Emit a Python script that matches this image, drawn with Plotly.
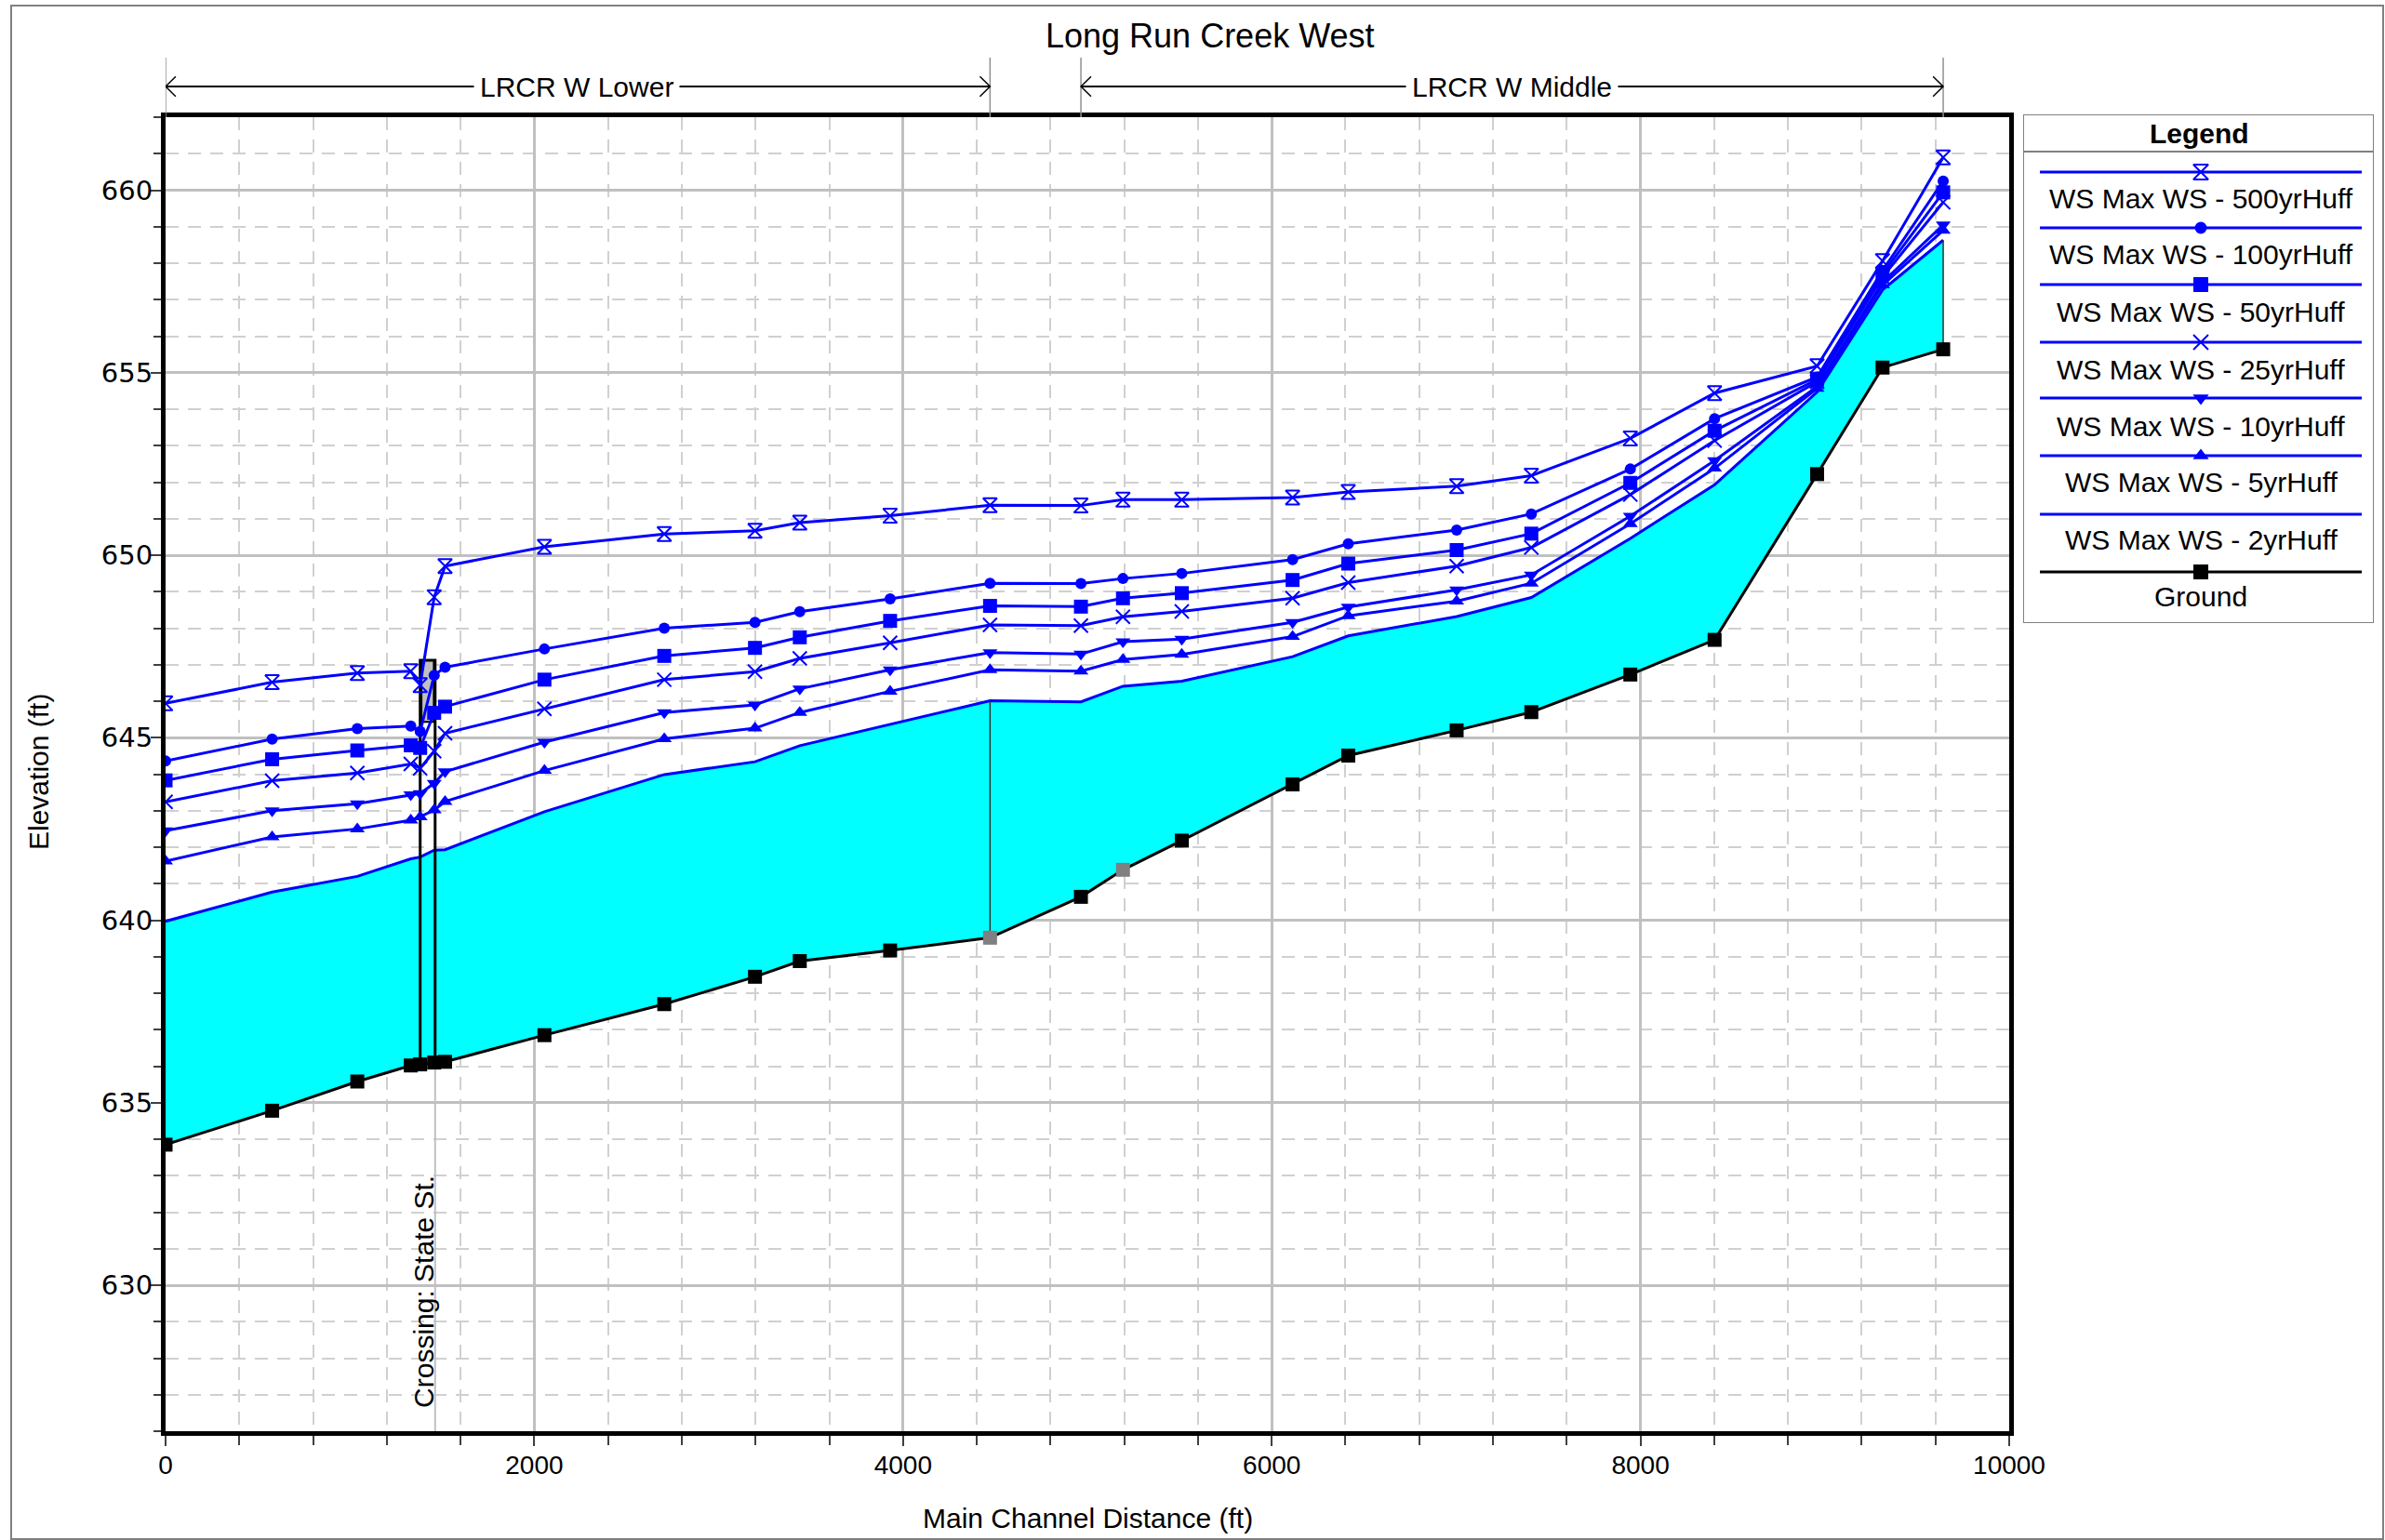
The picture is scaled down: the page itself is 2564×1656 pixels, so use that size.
import plotly.graph_objects as go

W, H = 2564, 1656

# ---------------- data ----------------
stations = [0, 578, 1040, 1330, 1381, 1457, 1516, 2055, 2705, 3197, 3440, 3930, 4472,
            4965, 5193, 5512, 6113, 6415, 7003, 7408, 7945, 8402, 8958, 9313, 9642]

ground = [633.85, 634.78, 635.58, 636.02, 636.05, 636.10, 636.12, 636.85, 637.70, 638.45,
          638.88, 639.17, 639.52, 640.64, 641.38, 642.18, 643.72, 644.51, 645.20, 645.70,
          646.73, 647.68, 652.22, 655.14, 655.64]
ground_gray_stations = [4472, 5193]

ws_2yr = [639.97, 640.77, 641.20, 641.68, 641.73, 641.92, 641.93, 642.97, 643.99, 644.34,
          644.78, 645.36, 646.01, 645.98, 646.41, 646.55, 647.22, 647.79, 648.32, 648.84,
          650.46, 651.93, 654.47, 657.27, 658.63]
ws_5yr = [641.62, 642.28, 642.50, 642.74, 642.83, 643.02, 643.25, 644.10, 644.97, 645.26,
          645.69, 646.27, 646.86, 646.82, 647.14, 647.28, 647.77, 648.34, 648.74, 649.23,
          650.86, 652.38, 654.57, 657.40, 658.90]
ws_10yr = [642.45, 643.00, 643.19, 643.44, 643.47, 643.75, 644.07, 644.88, 645.69, 645.90,
           646.34, 646.86, 647.33, 647.29, 647.63, 647.70, 648.16, 648.58, 649.05, 649.46,
           651.07, 652.59, 654.62, 657.48, 659.05]
ws_25yr = [643.24, 643.82, 644.03, 644.28, 644.16, 644.63, 645.12, 645.79, 646.59, 646.81,
           647.17, 647.60, 648.09, 648.07, 648.31, 648.46, 648.82, 649.25, 649.70, 650.21,
           651.66, 653.14, 654.75, 657.62, 659.67]
ws_50yr = [643.83, 644.41, 644.65, 644.79, 644.72, 645.68, 645.85, 646.59, 647.24, 647.46,
           647.75, 648.20, 648.61, 648.59, 648.82, 648.96, 649.32, 649.77, 650.14, 650.59,
           651.98, 653.41, 654.81, 657.71, 659.94]
ws_100yr = [644.36, 644.96, 645.25, 645.32, 645.17, 646.71, 646.93, 647.43, 648.00, 648.16,
            648.45, 648.80, 649.23, 649.22, 649.36, 649.50, 649.88, 650.31, 650.69, 651.13,
            652.36, 653.74, 654.88, 657.80, 660.25]
ws_500yr = [645.94, 646.52, 646.77, 646.82, 646.44, 648.85, 649.70, 650.23, 650.58, 650.67,
            650.89, 651.08, 651.37, 651.36, 651.52, 651.52, 651.58, 651.73, 651.89, 652.18,
            653.20, 654.44, 655.18, 658.06, 660.90]

series_names = ["WS Max WS - 500yrHuff", "WS Max WS - 100yrHuff", "WS Max WS - 50yrHuff",
                "WS Max WS - 25yrHuff", "WS Max WS - 10yrHuff", "WS Max WS - 5yrHuff",
                "WS Max WS - 2yrHuff", "Ground"]

# bridge (Crossing: State St.)
bridge_faces = [1381, 1462]
bridge_top = 647.12
bridge_low_chord = 645.43
bridge_deck = [1388, 1455]
crossing_label = "Crossing: State St."
crossing_station = 1400

# reaches
reach_names = ["LRCR W Lower", "LRCR W Middle"]
reach_start = [0, 4965]
reach_end = [4472, 9642]
reach_label_x = [2228, 7302]

title_text = "Long Run Creek West"
x_title = "Main Channel Distance (ft)"
y_title = "Elevation (ft)"

# ---------------- styling ----------------
BLUE = "#0000FF"
CYAN = "#00FFFF"
FONT = "Arial, Liberation Sans, sans-serif"
YFONT = "DejaVu Sans, Verdana, sans-serif"

def fy(p):  # pixel row -> paper
    return 1 - p / H

def fx(p):
    return p / W

fig = go.Figure()

gcolors = ["#808080" if s in ground_gray_stations else "black" for s in stations]
fig.add_trace(go.Scatter(x=stations, y=ground, mode="lines", line=dict(color="black", width=3),
                         showlegend=False, hoverinfo="skip"))
fig.add_trace(go.Scatter(x=stations, y=ws_2yr, mode="lines", line=dict(color=BLUE, width=3),
                         fill="tonexty", fillcolor=CYAN, showlegend=False, name=series_names[6]))

for s in [4472, 9642]:
    i = stations.index(s)
    fig.add_trace(go.Scatter(x=[s, s], y=[ground[i], ws_2yr[i]], mode="lines",
                             line=dict(color="#303030", width=1.5), showlegend=False, hoverinfo="skip"))

ig0 = stations.index(1381)
ig1 = stations.index(1457)
fig.add_trace(go.Scatter(x=[bridge_deck[0], bridge_deck[1], bridge_deck[1], bridge_deck[0], bridge_deck[0]],
                         y=[bridge_low_chord, bridge_low_chord, bridge_top, bridge_top, bridge_low_chord],
                         mode="lines", fill="toself", fillcolor="#C0C0C0",
                         line=dict(color="black", width=2), showlegend=False, hoverinfo="skip"))
fig.add_trace(go.Scatter(x=[bridge_faces[0], bridge_faces[0], bridge_faces[1], bridge_faces[1]],
                         y=[ground[ig0], bridge_top, bridge_top, ground[ig1]],
                         mode="lines", line=dict(color="black", width=3), showlegend=False, hoverinfo="skip"))
fig.add_trace(go.Scatter(x=[bridge_faces[1], bridge_faces[1]], y=[626, ground[ig1]],
                         mode="lines", line=dict(color="#C0C0C0", width=2), showlegend=False, hoverinfo="skip"))

ws_series = [
    (series_names[5], ws_5yr, "triangle-up", 14),
    (series_names[4], ws_10yr, "triangle-down", 14),
    (series_names[3], ws_25yr, "x-thin-open", 15),
    (series_names[2], ws_50yr, "square", 15),
    (series_names[1], ws_100yr, "circle", 12),
    (series_names[0], ws_500yr, "hourglass-open", 15),
]
for name, vals, sym, size in ws_series:
    fig.add_trace(go.Scatter(x=stations, y=vals, mode="lines+markers", name=name,
                             line=dict(color=BLUE, width=3),
                             marker=dict(symbol=sym, size=size, color=BLUE,
                                         line=dict(color=BLUE, width=2 if "open" in sym else 0)),
                             showlegend=False))

fig.add_trace(go.Scatter(x=stations, y=ground, mode="markers", name="Ground",
                         marker=dict(symbol="square", size=15, color=gcolors, line=dict(width=0)),
                         showlegend=False))

# ---------------- custom legend (on hidden axes in pixel units) ----------------
leg_line_y = [185, 245, 306, 368, 428, 490, 553, 615]
leg_text_y = [213, 273, 335, 397, 458, 518, 580, 641]
leg_syms = ["hourglass-open", "circle", "square", "x-thin-open", "triangle-down", "triangle-up", None, "square"]
leg_sizes = [16, 13, 16, 16, 15, 15, 0, 16]
for i, name in enumerate(series_names):
    col = "black" if name == "Ground" else BLUE
    fig.add_trace(go.Scatter(x=[2193, 2539], y=[leg_line_y[i], leg_line_y[i]], mode="lines",
                             line=dict(color=col, width=3), xaxis="x3", yaxis="y3",
                             showlegend=False, hoverinfo="skip"))
    if leg_syms[i]:
        sym = leg_syms[i]
        fig.add_trace(go.Scatter(x=[2366], y=[leg_line_y[i]], mode="markers", xaxis="x3", yaxis="y3",
                                 marker=dict(symbol=sym, size=leg_sizes[i], color=col,
                                             line=dict(color=col, width=2 if "open" in sym else 0)),
                                 showlegend=False, hoverinfo="skip"))

annotations = []
for i, name in enumerate(series_names):
    annotations.append(dict(x=2366, y=leg_text_y[i], xref="x3", yref="y3", text=name, showarrow=False,
                            font=dict(family=FONT, size=30, color="black"), xanchor="center", yanchor="middle"))
annotations.append(dict(x=2364, y=143, xref="x3", yref="y3", text="<b>Legend</b>", showarrow=False,
                        font=dict(family=FONT, size=30, color="black"), xanchor="center", yanchor="middle"))

annotations.append(dict(x=fx(1301), y=fy(39), xref="paper", yref="paper", text=title_text, showarrow=False,
                        font=dict(family=FONT, size=36, color="black"), xanchor="center", yanchor="middle"))
annotations.append(dict(x=fx(1169), y=fy(1632), xref="paper", yref="paper", text=x_title, showarrow=False,
                        font=dict(family=FONT, size=30, color="black"), xanchor="center", yanchor="middle"))
annotations.append(dict(x=fx(41), y=fy(830), xref="paper", yref="paper", text=y_title, showarrow=False,
                        textangle=-90, font=dict(family=FONT, size=30, color="black"),
                        xanchor="center", yanchor="middle"))
annotations.append(dict(x=crossing_station, y=626.6, xref="x", yref="y", text=crossing_label, showarrow=False,
                        textangle=-90, font=dict(family=FONT, size=30, color="black"),
                        xanchor="center", yanchor="bottom"))

shapes = []
ry = fy(93)
for name, s0, s1, lx in zip(reach_names, reach_start, reach_end, reach_label_x):
    for s in (s0, s1):
        shapes.append(dict(type="line", xref="x", yref="paper", x0=s, x1=s, y0=fy(126), y1=fy(62),
                           line=dict(color="#909090", width=1.5)))
    shapes.append(dict(type="line", xref="x", yref="paper", x0=s0, x1=s1, y0=ry, y1=ry,
                       line=dict(color="black", width=2)))
    d = 0.0065
    shapes.append(dict(type="path", xref="x", yref="paper",
                       path=f"M {s0+55},{ry+d} L {s0},{ry} L {s0+55},{ry-d}",
                       line=dict(color="black", width=1.5)))
    shapes.append(dict(type="path", xref="x", yref="paper",
                       path=f"M {s1-55},{ry+d} L {s1},{ry} L {s1-55},{ry-d}",
                       line=dict(color="black", width=1.5)))
    annotations.append(dict(x=lx, y=ry, xref="x", yref="paper", text=name, showarrow=False,
                            bgcolor="white", borderpad=6,
                            font=dict(family=FONT, size=30, color="black"), xanchor="center", yanchor="middle"))

shapes.append(dict(type="rect", xref="x3", yref="y3", x0=2175, x1=2552, y0=123, y1=670,
                   line=dict(color="#808080", width=2)))
shapes.append(dict(type="line", xref="x3", yref="y3", x0=2175, x1=2552, y0=163, y1=163,
                   line=dict(color="#808080", width=2)))
shapes.append(dict(type="rect", xref="paper", yref="paper", x0=fx(12), x1=fx(2562), y0=fy(1655), y1=fy(6),
                   line=dict(color="#808080", width=2)))

axis_common = dict(showline=True, linecolor="black", linewidth=5, mirror=True, ticks="outside",
                   tickcolor="#404040", tickwidth=2, ticklen=11, zeroline=False, automargin=False,
                   showgrid=True, gridcolor="#C0C0C0", gridwidth=3)

fig.update_layout(
    width=W, height=H, autosize=False,
    margin=dict(l=0, r=0, t=0, b=0, pad=0),
    paper_bgcolor="white", plot_bgcolor="white",
    showlegend=False,
    xaxis=dict(domain=[fx(178), fx(2160)], range=[0, 10000], dtick=2000, tick0=0, tickformat="d",
               anchor="y", tickfont=dict(family=FONT, size=28, color="black"),
               minor=dict(dtick=400, ticks="outside", ticklen=10, tickwidth=1.5, tickcolor="#404040",
                          showgrid=True, gridcolor="#D0D0D0", gridwidth=2, griddash="14px,10px"),
               **axis_common),
    yaxis=dict(domain=[fy(1539), fy(126)], range=[626, 662], dtick=5, tick0=630, anchor="x",
               tickfont=dict(family=YFONT, size=29, color="black"),
               minor=dict(dtick=1, ticks="outside", ticklen=8, tickwidth=1.5, tickcolor="#404040",
                          showgrid=True, gridcolor="#D0D0D0", gridwidth=2, griddash="14px,10px"),
               **axis_common),
    xaxis3=dict(domain=[fx(2175), fx(2552)], range=[2175, 2552], visible=False, anchor="y3",
                showgrid=False, zeroline=False, fixedrange=True, automargin=False),
    yaxis3=dict(domain=[fy(670), fy(123)], range=[670, 123], visible=False, anchor="x3",
                showgrid=False, zeroline=False, fixedrange=True, automargin=False),
    annotations=annotations,
    shapes=shapes,
    font=dict(family=FONT),
)

# pull tick labels a little closer to the frame, as in the reference
try:
    fig.update_yaxes(ticklabelstandoff=-8, selector=dict(anchor="x"))
    fig.update_xaxes(ticklabelstandoff=-4, selector=dict(anchor="y"))
except Exception:
    pass

fig.write_html("out.html",
               config={"responsive": False, "displayModeBar": False},
               post_script="document.documentElement.style.margin='0';document.body.style.margin='0';"
                           "document.body.style.overflow='hidden';")
